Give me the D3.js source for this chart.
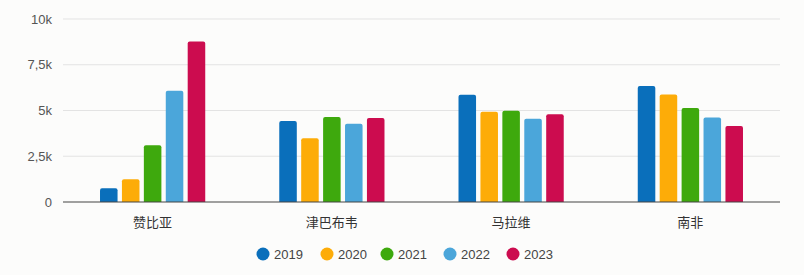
<!DOCTYPE html>
<html>
<head>
<meta charset="utf-8">
<script src="https://cdn.jsdelivr.net/npm/d3@7"></script>
<style>
  body { margin: 0; background: #fcfcfb; }
  text { font-family: "Liberation Sans", "Noto Sans CJK SC", sans-serif; }
</style>
</head>
<body>
<div id="chart"></div>
<script>
const countries = ["赞比亚", "津巴布韦", "马拉维", "南非"];
const years = ["2019", "2020", "2021", "2022", "2023"];
const v2019 = [750, 4420, 5860, 6340];
const v2020 = [1250, 3490, 4930, 5880];
const v2021 = [3100, 4640, 4990, 5130];
const v2022 = [6080, 4270, 4550, 4620];
const v2023 = [8770, 4590, 4800, 4150];
const yTicks = [0, 2500, 5000, 7500, 10000];
const yTickLabels = ["0", "2,5k", "5k", "7,5k", "10k"];
const colors = ["#0a6fbb", "#fdac08", "#3ea90d", "#4ba6da", "#cc0c4f"];

const series = [v2019, v2020, v2021, v2022, v2023];
const data = countries.map((c, i) => ({
  country: c,
  values: years.map((y, j) => ({year: y, value: series[j][i]}))
}));

const W = 804, H = 275;
const margin = {top: 19, right: 24, bottom: 73, left: 63};
const width = W - margin.left - margin.right,
      height = H - margin.top - margin.bottom;

const svg = d3.select("#chart")
  .append("svg")
    .attr("width", W)
    .attr("height", H);

const g = svg.append("g")
    .attr("transform", `translate(${margin.left},${margin.top})`);

const y = d3.scaleLinear().domain([0, 10000]).range([height, 0]);
const x0 = d3.scaleBand().domain(countries).range([0, width]).paddingInner(0.413).paddingOuter(0.2065);
const x1 = d3.scaleBand().domain(years).range([0, x0.bandwidth()]).paddingInner(0.2).paddingOuter(0);
const color = d3.scaleOrdinal().domain(years).range(colors);

// grid
g.append("g")
  .selectAll("line")
  .data(yTicks.slice(1))
  .enter().append("line")
    .attr("x1", 0).attr("x2", width)
    .attr("y1", d => y(d)).attr("y2", d => y(d))
    .attr("stroke", "#e3e3e3")
    .attr("stroke-width", 1);

// y labels
g.append("g")
  .selectAll("text")
  .data(yTicks)
  .enter().append("text")
    .attr("x", -11)
    .attr("y", d => y(d))
    .attr("dy", "0.35em")
    .attr("text-anchor", "end")
    .attr("font-size", 13)
    .attr("fill", "#555")
    .text((d, i) => yTickLabels[i]);

// bars
const groups = g.selectAll(".grp")
  .data(data)
  .enter().append("g")
    .attr("transform", d => `translate(${x0(d.country)},0)`);

groups.selectAll("path")
  .data(d => d.values)
  .enter().append("path")
    .attr("fill", d => color(d.year))
    .attr("d", d => {
      const bx = x1(d.year), bw = x1.bandwidth();
      const top = y(d.value), bottom = y(0), r = 2;
      return `M${bx},${bottom}V${top + r}Q${bx},${top} ${bx + r},${top}H${bx + bw - r}Q${bx + bw},${top} ${bx + bw},${top + r}V${bottom}Z`;
    });

// baseline
g.append("line")
  .attr("x1", 0).attr("x2", width)
  .attr("y1", y(0)).attr("y2", y(0))
  .attr("stroke", "#444")
  .attr("stroke-width", 1.2);

// category labels
g.append("g")
  .selectAll("text")
  .data(countries)
  .enter().append("text")
    .attr("x", d => x0(d) + x0.bandwidth() / 2)
    .attr("y", height + 20)
    .attr("dy", "0.35em")
    .attr("text-anchor", "middle")
    .attr("font-size", 13)
    .attr("fill", "#333")
    .text(d => d);

// legend
const legendX = [263, 327, 387, 450, 513];
const legend = svg.append("g")
  .selectAll("g")
  .data(years)
  .enter().append("g")
    .attr("transform", (d, i) => `translate(${legendX[i]},254)`);

legend.append("circle")
  .attr("r", 6.5)
  .attr("fill", d => color(d));

legend.append("text")
  .attr("x", 11)
  .attr("dy", "0.35em")
  .attr("font-size", 13)
  .attr("fill", "#444")
  .text(d => d);
</script>
</body>
</html>
